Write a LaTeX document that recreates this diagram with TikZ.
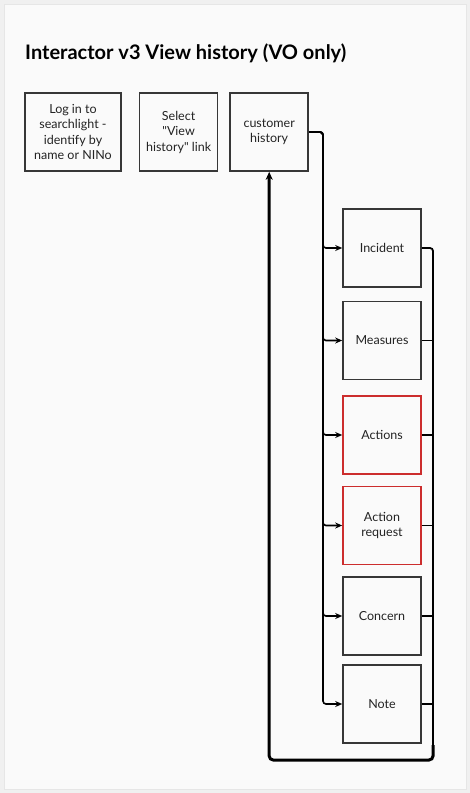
\documentclass[tikz,border=0pt]{standalone}
\usepackage{fontspec}
\setmainfont{Lato}[Ligatures=TeXOff]
\usetikzlibrary{arrows.meta, positioning}
\definecolor{pagefill}{RGB}{240,240,240}
\definecolor{panelfill}{RGB}{250,250,250}
\definecolor{panelline}{RGB}{230,230,230}
\definecolor{boxline}{RGB}{55,55,55}
\definecolor{flagline}{RGB}{204,45,45}
\definecolor{textgrey}{RGB}{35,35,35}
\tikzset{
    block/.style={
        rectangle, draw=boxline, line width=1.6pt, fill=panelfill,
        text=textgrey, align=center, minimum width=78pt, minimum height=78pt,
        inner sep=2pt, font=\fontsize{12.5}{15.5}\selectfont
    },
    wideblock/.style={block, minimum width=96pt},
    flagblock/.style={block, draw=flagline},
    connection/.style={draw=black, line width=1.6pt, rounded corners=3pt, -{Stealth[length=7pt, width=6pt]}},
    returnline/.style={draw=black, line width=1.8pt, rounded corners=3pt},
    returnbus/.style={draw=black, line width=3pt, rounded corners=4pt, -{Stealth[length=8pt, width=7pt]}},
    title/.style={font=\fontsize{20}{24}\selectfont\bfseries, text=black, inner sep=0pt}
}
\begin{document}
\begin{tikzpicture}[x=1pt, y=-1pt, node distance=11pt and 17pt]

% Page and panel
\useasboundingbox (0,0) rectangle (470,793);
\fill[pagefill] (0,0) rectangle (470,793);
\draw[panelline, fill=panelfill, line width=1pt] (4,4) rectangle (466,789);

\node[title, anchor=base west] (heading) at (25,59) {Interactor v3 View history (VO only)};

% Top row
\node[wideblock] (login) at (73,132) {Log in to\\searchlight -\\identify by\\name or NINo};
\node[block, right=17pt of login] (select) {Select\\"View\\history" link};
\node[block, right=11pt of select] (custhist) {customer\\history};

% Record types
\node[block] (incident) at (382,248) {Incident};
\node[block] (measures) at (382,340.5) {Measures};
\node[flagblock] (actions) at (382,435) {Actions};
\node[flagblock] (actionreq) at (382,525.5) {Action\\request};
\node[block] (concern) at (382,616) {Concern};
\node[block] (note) at (382,704) {Note};

% Rails
\coordinate (trunk) at (323,132);
\coordinate (rightrail) at (433,760);
\coordinate (railturn) at (433,745);

% Out from customer history
\draw[connection] (custhist.east) -- (trunk) -- (trunk |- incident.west) -- (incident.west);
\draw[connection] (custhist.east) -- (trunk) -- (trunk |- measures.west) -- (measures.west);
\draw[connection] (custhist.east) -- (trunk) -- (trunk |- actions.west) -- (actions.west);
\draw[connection] (custhist.east) -- (trunk) -- (trunk |- actionreq.west) -- (actionreq.west);
\draw[connection] (custhist.east) -- (trunk) -- (trunk |- concern.west) -- (concern.west);
\draw[connection] (custhist.east) -- (trunk) -- (trunk |- note.west) -- (note.west);

% Back to customer history
\draw[returnline] (incident.east) -- (rightrail |- incident.east) -- (railturn);
\draw[returnline] (measures.east) -- (rightrail |- measures.east);
\draw[returnline] (actions.east) -- (rightrail |- actions.east);
\draw[returnline] (actionreq.east) -- (rightrail |- actionreq.east);
\draw[returnline] (concern.east) -- (rightrail |- concern.east);
\draw[returnline] (note.east) -- (rightrail |- note.east);
\draw[returnbus] (railturn) -- (rightrail) -- (custhist.south |- rightrail) -- (custhist.south);

\end{tikzpicture}
\end{document}
